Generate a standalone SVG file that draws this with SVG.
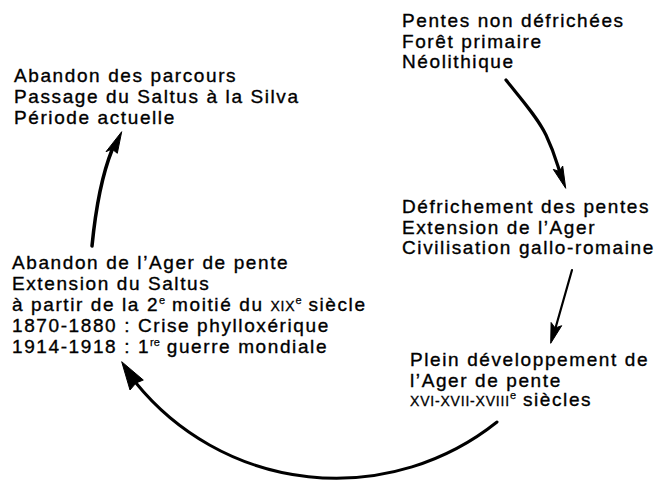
<svg xmlns="http://www.w3.org/2000/svg" width="668" height="481" viewBox="0 0 668 481">
<style>
text{font-family:"Liberation Sans",Arial,sans-serif;font-size:19px;letter-spacing:1.6px;fill:#000;stroke:#000;stroke-width:0.35px}
.sup{font-size:11px;letter-spacing:0;stroke-width:0.25px}
.sc{font-size:14px;letter-spacing:0.8px;stroke-width:0.3px}
.ln{fill:none;stroke:#000;stroke-linecap:round}
.hd{fill:#000;stroke:#000;stroke-width:1;stroke-linejoin:round}
</style>
<rect width="668" height="481" fill="#fff"/>
<g id="connectors">
<path class="ln" stroke-width="3.5" d="M92 246 Q98 185 112 150"/>
<polygon class="hd" points="121.7,131.7 106,151.7 112,149 117.3,153.3"/>
<path class="ln" stroke-width="3.2" d="M506 80 C522 100 538 118 546 135 S556 160 559.5 171"/>
<polygon class="hd" points="565.7,188.3 553.3,169.4 559.4,171.4 562.7,166"/>
<path class="ln" stroke-width="2.2" d="M572 270 L555.5 328"/>
<polygon class="hd" points="550.7,343.3 551.1,322.5 555.2,328 561.7,325.7"/>
<path class="ln" stroke-width="3" d="M497 422 A258 258 0 0 1 136 383"/>
<polygon class="hd" points="121.7,361.7 143.3,380 136,383 130,390"/>
</g>
<g id="node-abandon-parcours">
<text x="14" y="82">Abandon des parcours</text>
<text x="14" y="103">Passage du Saltus à la Silva</text>
<text x="14" y="124">Période actuelle</text>
</g>
<g id="node-pentes">
<text x="402" y="27">Pentes non défrichées</text>
<text x="402" y="47.5">Forêt primaire</text>
<text x="402" y="68">Néolithique</text>
</g>
<g id="node-defrichement">
<text x="402" y="213">Défrichement des pentes</text>
<text x="402" y="233.5">Extension de l’Ager</text>
<text x="402" y="254">Civilisation gallo-romaine</text>
</g>
<g id="node-abandon-ager">
<text x="12" y="269">Abandon de l’Ager de pente</text>
<text x="12" y="290">Extension du Saltus</text>
<text x="12" y="311">à partir de la 2<tspan class="sup" dy="-7">e</tspan><tspan dy="7"> moitié du </tspan><tspan class="sc">XIX</tspan><tspan class="sup" dy="-7">e</tspan><tspan dy="7"> siècle</tspan></text>
<text x="12" y="332">1870-1880 : Crise phylloxérique</text>
<text x="12" y="353">1914-1918 : 1<tspan class="sup" dy="-7">re</tspan><tspan dy="7"> guerre mondiale</tspan></text>
</g>
<g id="node-plein">
<text x="410" y="366">Plein développement de</text>
<text x="410" y="386.5">l’Ager de pente</text>
<text x="410" y="406"><tspan class="sc">XVI-XVII-XVIII</tspan><tspan class="sup" dy="-7">e</tspan><tspan dy="7"> siècles</tspan></text>
</g>
</svg>
